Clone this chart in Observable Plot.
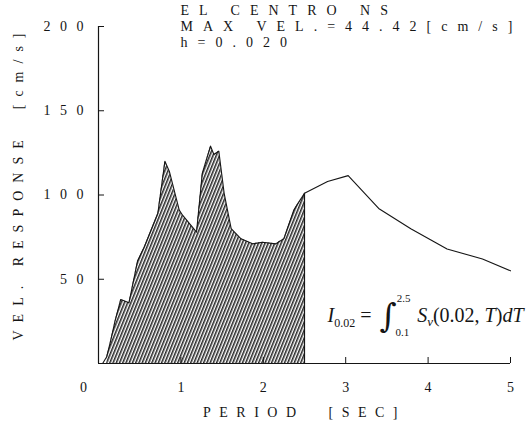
<!DOCTYPE html>
<html><head><meta charset="utf-8">
<script src="https://cdn.jsdelivr.net/npm/d3@7"></script>
<script src="https://cdn.jsdelivr.net/npm/@observablehq/plot@0.6"></script>
<style>
body{margin:0;background:#fff}
</style>
</head><body><div id="chart"></div>
<script>
// Velocity response spectrum, El Centro NS, h = 0.02
const period   = [0.05, 0.1, 0.15, 0.2, 0.27, 0.37, 0.475, 0.555, 0.72, 0.806, 0.86, 0.98, 1.02, 1.19, 1.26, 1.36, 1.40, 1.46, 1.525, 1.61, 1.73, 1.87, 1.99, 2.15, 2.25, 2.37, 2.5, 2.78, 3.03, 3.40, 3.79, 4.23, 4.66, 5.0];
const velocity = [0,    4,   14,   25,  38,   36,   61,    69,    89,   120,   114,  91,   88,   78,   113,  129,  124,  126,  101,   80,   74,   71,   72,   71,   74,   91,   101, 108,  111.5, 92,   80,   68,   62,   55];
const xTicks = [1, 2, 3, 4, 5];
const yTicks = [50, 100, 150, 200];
const titleLines = ["EL CENTRO NS", "MAX VEL.=44.42[cm/s]", "h=0.020"];
const xLabel = "PERIOD  [SEC]";
const yLabel = "VEL. RESPONSE  [cm/s]";
const lowerLimit = 0.1, upperLimit = 2.5;

const data = period.map((T, i) => ({T, Sv: velocity[i]}));

const W = 532, H = 425, mL = 98, mR = 22, mT = 26, mB = 62;
const frameW = W - mL - mR, frameH = H - mT - mB;
const ink = "#151515";

const plot = Plot.plot({
  width: W, height: H,
  marginLeft: mL, marginRight: mR, marginTop: mT, marginBottom: mB,
  x: {domain: [0, 5], axis: null},
  y: {domain: [0, 200], axis: null},
  style: {fontFamily: "'Liberation Serif', serif", fontSize: "14px", background: "#fff", color: ink},
  marks: [
    Plot.areaY(data.filter(d => d.T >= lowerLimit && d.T <= upperLimit), {x: "T", y: "Sv", fill: "url(#hatch)"}),
    Plot.line(data, {x: "T", y: "Sv", stroke: ink, strokeWidth: 1.1}),
    Plot.ruleX(data.filter(d => d.T === upperLimit), {x: "T", y1: 0, y2: "Sv", stroke: ink, strokeWidth: 1.2}),
    Plot.ruleX([0], {y1: 0, y2: 200, stroke: ink, strokeWidth: 1.2}),
    Plot.ruleY([0], {x1: 0, x2: 5, stroke: ink, strokeWidth: 1.2}),
    Plot.tickX(xTicks, {x: d => d, insetTop: frameH - 6, stroke: ink}),
    Plot.tickY(yTicks, {y: d => d, insetRight: frameW - 6, stroke: ink}),
    Plot.text(xTicks, {x: d => d, y: 0, dy: 24, text: d => String(d), ariaDescription: "xlabels"}),
    Plot.text([0], {x: d => d, y: 0, dx: -15, dy: 24, text: d => String(d), ariaDescription: "xlabels"}),
    Plot.text(yTicks, {x: 0, y: d => d, dx: -5.5, textAnchor: "end", text: d => String(d), ariaDescription: "ylabels"}),
    Plot.text([titleLines[0]], {frameAnchor: "top-left", dx: 82, dy: -16, textAnchor: "start", lineAnchor: "middle", text: d => d, ariaDescription: "title"}),
    Plot.text([titleLines[1]], {frameAnchor: "top-left", dx: 82, dy: 0, textAnchor: "start", lineAnchor: "middle", text: d => d, ariaDescription: "title"}),
    Plot.text([titleLines[2]], {frameAnchor: "top-left", dx: 82, dy: 16, textAnchor: "start", lineAnchor: "middle", text: d => d, ariaDescription: "title"}),
    Plot.text([xLabel], {frameAnchor: "bottom", dx: 0, dy: 49, textAnchor: "middle", lineAnchor: "middle", text: d => d, ariaDescription: "xlabel"}),
    Plot.text([yLabel], {frameAnchor: "left", dx: -80, dy: -12, rotate: -90, textAnchor: "middle", lineAnchor: "middle", text: d => d, ariaDescription: "ylabel"}),
    Plot.text(["I0.02 = ∫ Sv(0.02,T)dT"], {frameAnchor: "bottom-left", dx: 229, dy: -48, textAnchor: "start", lineAnchor: "middle", fontSize: 19, text: d => d, ariaDescription: "formula"})
  ]
});

const svg = d3.select(plot);
const defs = svg.insert("defs", ":first-child");
const pat = defs.append("pattern").attr("id", "hatch").attr("patternUnits", "userSpaceOnUse")
  .attr("width", 3.0).attr("height", 10).attr("patternTransform", "rotate(22)");
pat.append("rect").attr("width", 3.0).attr("height", 10).attr("fill", "#fff");
pat.append("line").attr("x1", 0.8).attr("y1", -1).attr("x2", 0.8).attr("y2", 11)
  .attr("stroke", ink).attr("stroke-width", 1.45);

const spacing = {title: 10, ylabels: 9.5, xlabels: 0, xlabel: 8.5, ylabel: 8, formula: 0};
for (const [k, v] of Object.entries(spacing)) {
  svg.selectAll(`g[aria-description="${k}"] text`).style("letter-spacing", v + "px").style("white-space", "pre");
}

// Build the formula as real text with sub/superscripts
const f = svg.select('g[aria-description="formula"] text');
f.text(null).style("font-family", "'Liberation Serif', serif");
const parts = [
  {t: "I", it: true, size: 20},
  {t: "0.02", size: 12, dy: 5},
  {t: " = ", size: 20, dy: -5},
  {t: "∫", size: 33, dy: 5, dx: 3, family: "'DejaVu Serif', serif"},
  {t: "2.5", size: 11, dy: -25, dx: 0},
  {t: "0.1", size: 11, dy: 34, dx: -15},
  {t: "S", it: true, size: 20, dy: -14, dx: 8},
  {t: "v", it: true, size: 13, dy: 4},
  {t: "(0.02, ", size: 20, dy: -4},
  {t: "T", it: true, size: 20},
  {t: ")", size: 20},
  {t: "dT", it: true, size: 20}
];
for (const p of parts) {
  const ts = f.append("tspan").text(p.t).style("font-size", p.size + "px");
  if (p.it) ts.style("font-style", "italic");
  if (p.dy) ts.attr("dy", p.dy);
  if (p.dx) ts.attr("dx", p.dx);
  if (p.family) ts.style("font-family", p.family);
}

document.getElementById("chart").appendChild(plot);
</script>
</body></html>
